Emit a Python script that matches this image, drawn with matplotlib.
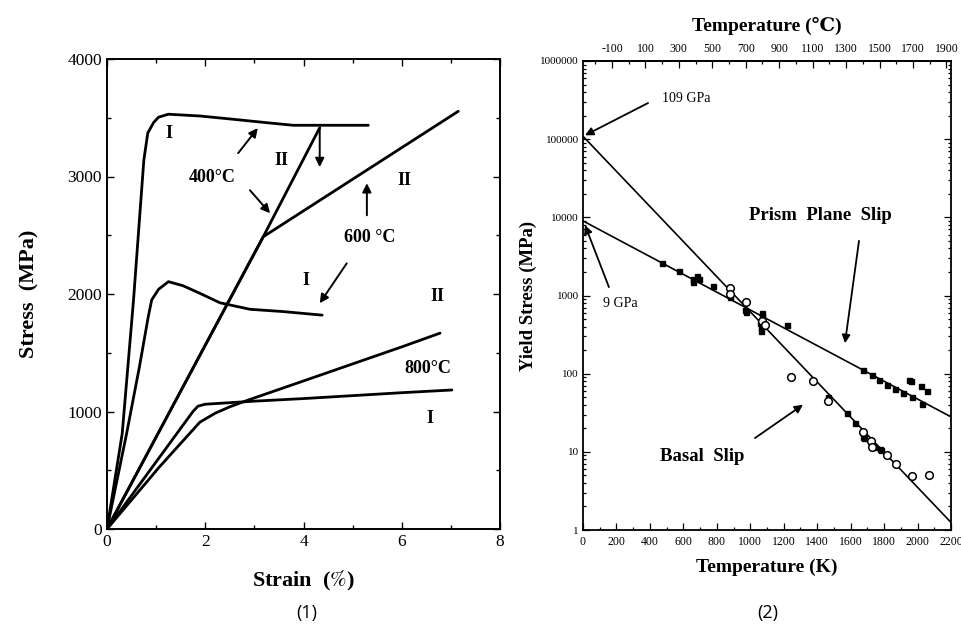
import numpy as np
import matplotlib
matplotlib.use("Agg")
import matplotlib.pyplot as plt
from matplotlib.ticker import FixedLocator, MultipleLocator, LogLocator, FuncFormatter, NullFormatter

SERIF = ["Liberation Serif", "DejaVu Serif", "DejaVu Sans"]
plt.rcParams["font.family"] = SERIF
plt.rcParams["mathtext.fontset"] = "stix"
plt.rcParams["axes.unicode_minus"] = False

# ---------------- panel (1): stress-strain curves ----------------
strain_400_I = [0, 0.31, 0.54, 0.69, 0.75, 0.83, 0.95, 1.05, 1.25, 1.89, 2.57, 3.25, 3.79, 4.6, 5.32]
stress_400_I = [0, 814, 1950, 2800, 3140, 3370, 3460, 3505, 3530, 3515, 3487, 3458, 3436, 3436, 3436]

strain_400_II = [0, 3.18, 4.33]
stress_400_II = [0, 2487, 3415]

strain_600_I = [0, 0.40, 0.66, 0.84, 0.91, 1.05, 1.25, 1.55, 1.89, 2.3, 2.91, 3.6, 4.38]
stress_600_I = [0, 814, 1380, 1807, 1950, 2040, 2105, 2070, 2006, 1925, 1870, 1850, 1820]

strain_600_II = [0, 3.18, 7.15]
stress_600_II = [0, 2487, 3555]

strain_800_I = [0, 1.75, 1.85, 2.0, 3.0, 4.0, 5.0, 6.0, 7.02]
stress_800_I = [0, 1000, 1045, 1062, 1088, 1110, 1135, 1160, 1183]

strain_800_II = [0, 1.06, 1.89, 2.2, 2.5, 2.85, 4.0, 5.0, 6.0, 6.78]
stress_800_II = [0, 525, 909, 985, 1040, 1094, 1260, 1405, 1550, 1667]

# ---------------- panel (2): yield stress vs temperature ----------------
fit_T = [0, 2200]
basal_fit = [109000, 1.25]
prism_fit = [9000, 28]

filled_T = [470, 576, 656, 680, 696, 660, 779, 879, 968, 972, 1068, 1068, 1058, 1062, 1066,
            1222, 1676, 1726, 1771, 1816, 1865, 1915, 1965, 2025, 1949, 1958, 2021, 2055,
            1467, 1576, 1626, 1674, 1678, 1722, 1742, 1776, 1782]
filled_sigma = [2620, 2070, 1606, 1770, 1606, 1500, 1318, 946, 650, 610, 600, 545, 447, 390, 355,
                418, 111, 96, 83, 71, 64, 56, 50, 41, 82, 81, 69, 60,
                51, 31, 23.6, 15.6, 15, 12.8, 11.4, 10.8, 10.6]

open_T = [879, 879, 975, 1070, 1088, 1241, 1373, 1467, 1676, 1722, 1726, 1816, 1871, 1969, 2070]
open_sigma = [1230, 1042, 817, 470, 418, 90, 81, 45, 18, 13.7, 11.6, 9.1, 7.0, 4.9, 5.0]

celsius_ticks = list(range(-100, 2000, 200))
kelvin_ticks = list(range(0, 2201, 200))
stress_decades = [1, 10, 100, 1000, 10000, 100000, 1000000]

fig = plt.figure(figsize=(9.62, 6.24), dpi=100)

# ---------- left panel ----------
ax1 = fig.add_axes([107 / 962, 1 - 529 / 624, 393 / 962, 470 / 624])
curve_kw = dict(color="black", lw=2.0, solid_capstyle="round", solid_joinstyle="round")
for sx, sy in [(strain_400_I, stress_400_I), (strain_400_II, stress_400_II),
               (strain_600_I, stress_600_I), (strain_600_II, stress_600_II),
               (strain_800_I, stress_800_I), (strain_800_II, stress_800_II)]:
    ax1.plot(sx, sy, **curve_kw)

ax1.set_xlim(0, 8)
ax1.set_ylim(0, 4000)
ax1.xaxis.set_major_locator(MultipleLocator(2))
ax1.xaxis.set_minor_locator(MultipleLocator(1))
ax1.yaxis.set_major_locator(MultipleLocator(1000))
ax1.yaxis.set_minor_locator(MultipleLocator(500))
ax1.tick_params(which="both", direction="in", top=True, right=True, labelsize=12.5, width=1.0)
ax1.tick_params(which="major", length=5)
ax1.tick_params(which="minor", length=3)
for s in ax1.spines.values():
    s.set_linewidth(1.4)
ax1.set_xlabel("Strain  ($\\it{\\%}$)", fontsize=16, fontweight="bold", labelpad=14)
ax1.set_ylabel("Stress  (MPa)", fontsize=16, fontweight="bold", labelpad=20)

lab_kw = dict(fontsize=13, fontweight="bold", ha="center", va="center")
ax1.text(1.27, 3365, "I", **lab_kw)
ax1.text(3.55, 3135, "II", **lab_kw)
ax1.text(2.15, 2990, "400°C", **lab_kw)
ax1.text(6.06, 2970, "II", **lab_kw)
ax1.text(5.35, 2478, "600 °C", **lab_kw)
ax1.text(4.04, 2118, "I", **lab_kw)
ax1.text(6.72, 1977, "II", **lab_kw)
ax1.text(6.54, 1370, "800°C", **lab_kw)
ax1.text(6.57, 943, "I", **lab_kw)

arrow_kw = dict(arrowstyle="-|>", color="black", lw=1.4, mutation_scale=13, shrinkA=0, shrinkB=0)
for (x0, y0), (x1, y1) in [((2.67, 3199), (3.07, 3412)),
                           ((2.91, 2883), (3.32, 2687)),
                           ((4.33, 3411), (4.33, 3080)),
                           ((5.29, 2670), (5.29, 2943)),
                           ((4.88, 2261), (4.33, 1921))]:
    ax1.annotate("", xy=(x1, y1), xytext=(x0, y0), arrowprops=arrow_kw)

fig.text(307 / 962, 1 - 613 / 624, "(1)", fontsize=13, family=["Open Sans", "DejaVu Sans"],
         ha="center", va="center")

# ---------- right panel ----------
ax2 = fig.add_axes([583 / 962, 1 - 530 / 624, 368 / 962, 469 / 624])
ax2.set_yscale("log")
ax2.plot(fit_T, basal_fit, color="black", lw=1.2)
ax2.plot(fit_T, prism_fit, color="black", lw=1.2)
ax2.plot(filled_T, filled_sigma, linestyle="none", marker="s", markersize=3.6,
         color="black")
ax2.plot(open_T, open_sigma, linestyle="none", marker="o", markersize=5.5,
         markerfacecolor="white", markeredgecolor="black", markeredgewidth=1.1)

ax2.set_xlim(0, 2200)
ax2.set_ylim(1, 1000000)
ax2.xaxis.set_major_locator(FixedLocator(kelvin_ticks))
ax2.xaxis.set_minor_locator(MultipleLocator(100))
ax2.yaxis.set_major_locator(FixedLocator(stress_decades))
ax2.yaxis.set_minor_locator(LogLocator(base=10, subs=np.arange(2, 10)))
ax2.yaxis.set_major_formatter(FuncFormatter(lambda v, p: f"{v:.0f}"))
ax2.yaxis.set_minor_formatter(NullFormatter())
ax2.tick_params(which="both", direction="in", right=True, top=False, labelsize=8.5, width=0.9)
ax2.tick_params(axis="y", which="major", length=5, pad=3, labelsize=8)
ax2.tick_params(axis="x", which="major", length=5, pad=4)
ax2.tick_params(which="minor", length=2.5)
for s in ax2.spines.values():
    s.set_linewidth(1.3)
ax2.set_xlabel("Temperature (K)", fontsize=14, fontweight="bold", labelpad=8)
ax2.set_ylabel("Yield Stress (MPa)", fontsize=13.5, fontweight="bold", labelpad=2)

top = ax2.secondary_xaxis("top", functions=(lambda k: k - 273, lambda c: c + 273))
top.xaxis.set_major_locator(FixedLocator(celsius_ticks))
top.xaxis.set_minor_locator(MultipleLocator(100))
top.tick_params(which="both", direction="in", labelsize=8.5, width=0.9, pad=4)
top.tick_params(which="major", length=5)
top.tick_params(which="minor", length=2.5)
top.spines["top"].set_linewidth(1.3)
top.set_xlabel("Temperature (℃)", fontsize=14, fontweight="bold", labelpad=9)

ann_kw = dict(arrowstyle="-|>", color="black", lw=1.3, mutation_scale=12, shrinkA=0, shrinkB=0)
ax2.text(472, 3.3e5, "109 GPa", fontsize=10, ha="left", va="center")
ax2.annotate("", xy=(12, 1.12e5), xytext=(389, 2.9e5), arrowprops=ann_kw)
ax2.text(120, 800, "9 GPa", fontsize=10, ha="left", va="center")
ax2.annotate("", xy=(12, 7950), xytext=(155, 1280), arrowprops=ann_kw)
ax2.text(1417, 10700, "Prism  Plane  Slip", fontsize=13.5, fontweight="bold", ha="center", va="center")
ax2.annotate("", xy=(1566, 245), xytext=(1650, 5000), arrowprops=ann_kw)
ax2.text(711, 8.8, "Basal  Slip", fontsize=13.5, fontweight="bold", ha="center", va="center")
ax2.annotate("", xy=(1315, 40), xytext=(1028, 15), arrowprops=ann_kw)

fig.text(768 / 962, 1 - 613 / 624, "(2)", fontsize=13, family=["Open Sans", "DejaVu Sans"],
         ha="center", va="center")

fig.savefig("out.png", dpi=100)
